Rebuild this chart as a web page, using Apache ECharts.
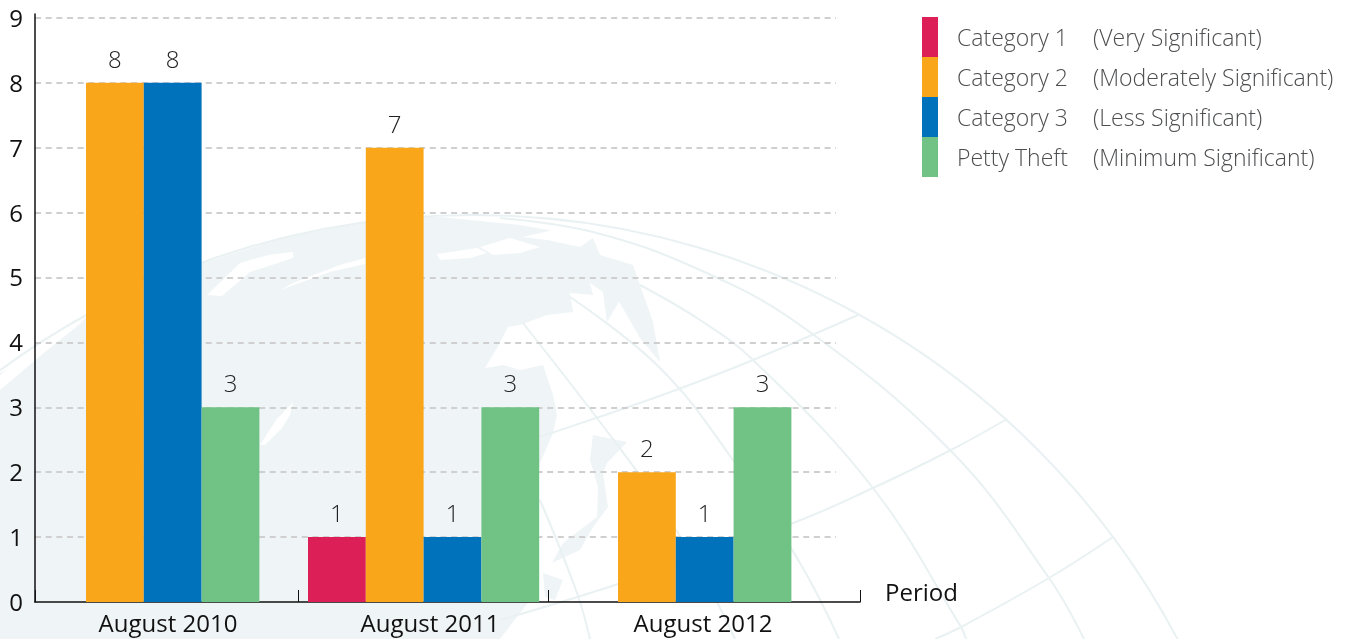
<!DOCTYPE html>
<html>
<head>
<meta charset="utf-8">
<title>Security incidents by period</title>
<style>
html, body { margin: 0; padding: 0; background: #fff; }
#chart { width: 1354px; height: 639px; }
</style>
<script src="https://cdn.jsdelivr.net/npm/echarts@6/dist/echarts.min.js"></script>
</head>
<body>
<div id="chart"></div>
<script>
var periods = ['August 2010', 'August 2011', 'August 2012'];
var category1 = [null, 1, null];
var category2 = [8, 7, 2];
var category3 = [8, 1, 1];
var pettyTheft = [3, 3, 3];
var seriesNames = ['Category 1', 'Category 2', 'Category 3', 'Petty Theft'];
var seriesNotes = ['(Very Significant)', '(Moderately Significant)', '(Less Significant)', '(Minimum Significant)'];
var yTicks = [0, 1, 2, 3, 4, 5, 6, 7, 8, 9];

(function () {
    'use strict';
    var myChart = echarts.init(document.getElementById('chart'), null, { renderer: 'canvas' });

    var fontName = '"Open Sans", "Noto Sans", sans-serif';
    var colors = ['#dc1f57', '#faa61a', '#0072bc', '#70c285'];
    var allValues = [category1, category2, category3, pettyTheft];

    // x axis runs in px from the y axis line, groups are not evenly spaced in the original
    var xEnd = 825;
    var barWidth = 57.8;
    var groupStart = [51, 273, 583];
    var labelAt = [133, 395, 668];
    var tickAt = [0, 263, 513, 825];

    // empty categories close up, the next bar takes the slot
    var seriesData = [[], [], [], []];
    periods.forEach(function (p, g) {
        var slot = 0;
        allValues.forEach(function (values, s) {
            if (values[g] === null) {
                return;
            }
            seriesData[s].push([groupStart[g] + (slot + 0.5) * barWidth, values[g]]);
            slot++;
        });
    });

    var globeStroke = { stroke: '#e9f1f3', fill: 'none', lineWidth: 2 };
    var land = '#eff4f7';

    function arc(points) {
        return {
            type: 'polyline',
            z: -5,
            silent: true,
            shape: { points: points, smooth: 0.4 },
            style: globeStroke
        };
    }

    function shape(points, fill) {
        return {
            type: 'polygon',
            z: fill === '#fff' ? -8 : -9,
            silent: true,
            shape: { points: points },
            style: { fill: fill }
        };
    }

    // faint globe behind the plot
    var globe = [
        shape([[0, 373], [33, 358], [86, 318], [187, 268], [283, 238], [365, 222], [420, 215], [520, 225], [593, 238],
            [600, 255], [633, 265], [640, 285], [653, 322], [660, 362], [640, 338], [617, 298], [627, 288], [607, 322],
            [603, 292], [590, 283], [593, 295], [570, 293], [573, 312], [547, 315], [520, 325], [508, 327], [497, 348],
            [485, 368], [503, 365], [520, 370], [543, 365], [553, 395], [557, 415], [553, 433], [540, 463], [530, 530],
            [530, 600], [500, 639], [0, 639]], land),
        shape([[593, 435], [627, 442], [607, 463], [603, 473], [608, 507], [593, 527], [580, 550], [552, 563], [563, 543],
            [597, 517], [598, 487], [590, 460]], land),
        shape([[543, 573], [563, 580], [555, 600], [545, 597]], land),
        shape([[207, 295], [240, 263], [268, 255], [293, 252], [293, 258], [250, 272], [222, 296]], '#fff'),
        shape([[280, 290], [293, 283], [340, 265], [365, 258], [365, 264], [330, 272]], '#fff'),
        shape([[260, 445], [276, 420], [293, 402], [290, 415], [282, 428], [265, 445]], '#fff'),
        shape([[437, 254], [477, 248], [487, 253], [470, 258], [440, 260]], '#fff'),
        shape([[480, 247], [510, 238], [540, 247], [520, 253], [493, 255]], '#fff'),
        shape([[523, 237], [553, 230], [593, 238], [580, 247], [547, 240]], '#fff'),
        shape([[0, 375], [40, 345], [85, 320], [45, 352], [0, 390]], '#fff'),
        {
            type: 'circle',
            z: -5,
            silent: true,
            shape: { cx: 473, cy: 1012, r: 797 },
            style: globeStroke
        },
        arc([[500, 218], [593, 232], [700, 270], [800, 325], [950, 450], [1049, 578], [1084, 639]]),
        arc([[640, 285], [700, 320], [753, 360], [873, 488], [961, 627], [966, 639]]),
        arc([[570, 297], [660, 368], [733, 460], [800, 563], [839, 639]]),
        arc([[523, 323], [600, 422], [650, 490], [700, 570], [735, 639]]),
        arc([[540, 500], [577, 593], [590, 639]]),
        arc([[858, 315], [753, 360], [676, 390], [599, 417], [500, 450]]),
        arc([[1007, 419], [951, 450], [873, 488], [793, 523], [615, 585], [500, 620]]),
        arc([[1113, 537], [1049, 578], [961, 627], [935, 639]])
    ];

    var option = {
        animation: false,
        backgroundColor: '#fff',
        textStyle: { fontFamily: fontName },
        graphic: { elements: globe },
        legend: {
            left: 922,
            top: 17,
            padding: 0,
            orient: 'vertical',
            icon: 'rect',
            itemWidth: 16,
            itemHeight: 40,
            itemGap: 0,
            selectedMode: false,
            data: seriesNames,
            formatter: function (name) {
                return '{a|' + name + '}{b|' + seriesNotes[seriesNames.indexOf(name)] + '}';
            },
            textStyle: {
                rich: {
                    a: { width: 136, padding: [5, 0, 0, 14], fontSize: 23, fontWeight: 300, color: '#4d4e50', fontFamily: fontName },
                    b: { padding: [5, 0, 0, 0], fontSize: 23, fontWeight: 300, color: '#4d4e50', fontFamily: fontName }
                }
            }
        },
        grid: [
            // gridlines stop short of the x axis end, so they get their own grid
            { left: 35, top: 18, width: 801, height: 584 },
            { left: 35, top: 14, width: xEnd, height: 588 }
        ],
        xAxis: [
            { gridIndex: 0, type: 'value', min: 0, max: 1, show: false },
            {
                gridIndex: 1,
                type: 'value',
                min: 0,
                max: xEnd,
                splitLine: { show: false },
                axisLine: { onZero: false, lineStyle: { color: '#111', width: 1.5 } },
                axisTick: {
                    show: true,
                    inside: true,
                    length: 12,
                    customValues: tickAt,
                    lineStyle: { color: '#111', width: 1 }
                },
                axisLabel: {
                    customValues: labelAt,
                    margin: 11,
                    fontSize: 24,
                    color: '#111',
                    formatter: function (v) {
                        return periods[labelAt.indexOf(v)];
                    }
                },
                name: 'Period',
                nameLocation: 'end',
                nameGap: 25,
                nameTextStyle: { fontSize: 24, color: '#111', verticalAlign: 'bottom', lineHeight: 16 }
            }
        ],
        yAxis: [
            {
                gridIndex: 0,
                type: 'value',
                min: yTicks[0],
                max: yTicks[yTicks.length - 1],
                interval: 1,
                axisLine: { show: false },
                axisTick: { show: false },
                axisLabel: {
                    margin: 12,
                    fontSize: 24,
                    color: '#111',
                    verticalAlign: 'middle',
                    verticalAlignMaxLabel: 'middle',
                    verticalAlignMinLabel: 'middle',
                    formatter: '{n|{value}}',
                    rich: { n: { fontSize: 24, color: '#111', padding: [4, 0, 0, 0], fontFamily: fontName } }
                },
                splitLine: {
                    showMinLine: false,
                    lineStyle: { color: '#cfcfcf', width: 2, type: [6, 4.67] }
                }
            },
            {
                gridIndex: 1,
                type: 'value',
                min: 0,
                max: 9.06,
                interval: 1,
                axisLine: { show: true, lineStyle: { color: '#111', width: 1.5 } },
                axisTick: { show: false },
                axisLabel: { show: false },
                splitLine: { show: false }
            }
        ],
        series: seriesNames.map(function (name, i) {
            return {
                name: name,
                type: 'bar',
                xAxisIndex: 1,
                yAxisIndex: 1,
                barWidth: barWidth,
                barGap: '-100%',
                data: seriesData[i],
                itemStyle: { color: colors[i] },
                label: {
                    show: true,
                    position: 'top',
                    distance: 10,
                    fontSize: 24,
                    fontWeight: 300,
                    color: '#222',
                    formatter: function (p) {
                        return p.value[1];
                    }
                }
            };
        })
    };
    myChart.setOption(option);
    window.addEventListener('resize', function () {
        myChart.resize();
    });
})();
</script>
</body>
</html>
